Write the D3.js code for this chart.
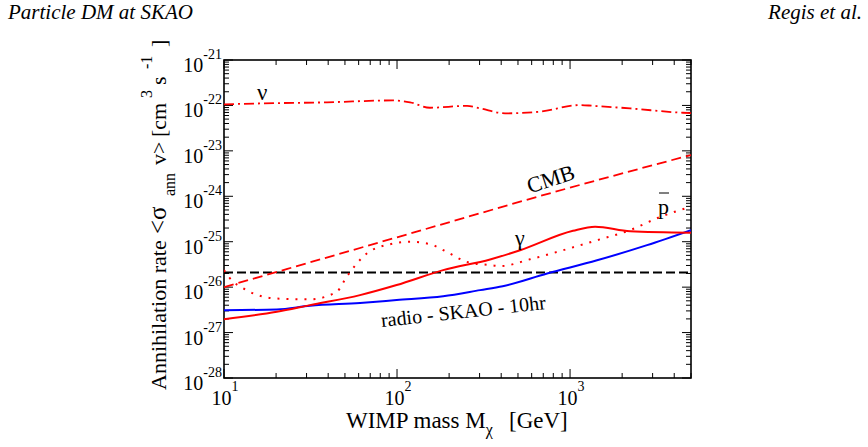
<!DOCTYPE html>
<html>
<head>
<meta charset="utf-8">
<style>
  html, body { margin: 0; padding: 0; background: #fff; }
  svg { display: block; font-family: 'Liberation Serif', 'Times New Roman', serif; }
</style>
</head>
<body>
<script src="https://d3js.org/d3.v7.min.js"></script>
<script>
// ---- data (mass in GeV, rate in cm^3 s^-1) ----
var massNu = [10, 16.8, 39.4, 95, 119, 155, 254, 302, 421, 671, 1143, 1359, 2223, 4500, 5000];
var rateNu = [1.06e-22, 1.11e-22, 1.17e-22, 1.29e-22, 1.17e-22, 8.9e-23, 9.8e-23, 8.6e-23, 6.7e-23, 7.3e-23, 1.02e-22, 9.8e-23, 8.6e-23, 6.9e-23, 6.8e-23];

var massCmb = [10, 100, 1000, 5000];
var rateCmb = [1.0e-26, 1.25e-25, 1.55e-24, 8.1e-24];

var massThermal = [10, 5000];
var rateThermal = [2.1e-26, 2.1e-26];

var massGamma = [10, 20.2, 31.4, 61.1, 99.5, 184.7, 345, 514, 1040, 1396, 2223, 5000];
var rateGamma = [1.97e-27, 2.86e-27, 4.02e-27, 6.67e-27, 1.11e-26, 2.37e-26, 4.07e-26, 6.5e-26, 1.74e-25, 2.14e-25, 1.7e-25, 1.58e-25];

var massRadio = [10, 20.2, 31.4, 61.1, 99.5, 184.7, 302, 408, 737, 1432, 2786, 5000];
var rateRadio = [3.11e-27, 3.23e-27, 3.9e-27, 4.5e-27, 5.2e-27, 6.3e-27, 8.6e-27, 1.05e-26, 2.0e-26, 3.9e-26, 8.4e-26, 1.8e-25];

var massPbar = [10, 10.8, 13.5, 20.2, 31.4, 44.8, 51.2, 58.5, 66.8, 91.2, 119, 155, 202, 253, 345, 394, 587, 912, 1432, 2223, 3311, 5000];
var ratePbar = [2.37e-26, 1.58e-26, 8.6e-27, 5.6e-27, 5.4e-27, 7.9e-27, 1.69e-26, 3.3e-26, 5.5e-26, 8.8e-26, 9.95e-26, 8.8e-26, 5.5e-26, 3.6e-26, 3.05e-26, 2.9e-26, 4.1e-26, 6.5e-26, 1.08e-25, 1.8e-25, 3.5e-25, 5.9e-25];

var xMajor = [10, 100, 1000];
var yExponents = [-21, -22, -23, -24, -25, -26, -27, -28];

(function() {
  var svg = d3.select("body").append("svg")
    .attr("width", 868)
    .attr("height", 447);

  svg.append("rect").attr("width", 868).attr("height", 447).attr("fill", "#fff");

  // header
  svg.append("text").attr("x", 8).attr("y", 19)
    .attr("font-size", "21px").attr("font-style", "italic")
    .text("Particle DM at SKAO");
  svg.append("text").attr("x", 862).attr("y", 19)
    .attr("text-anchor", "end")
    .attr("font-size", "21px").attr("font-style", "italic")
    .text("Regis et al.");

  var pl = 224, pr = 691, pt = 60, pb = 378;

  var x = d3.scaleLog().domain([10, 5000]).range([pl, pr]);
  var y = d3.scaleLog().domain([1e-28, 1e-21]).range([pb, pt]);

  // ticks on all four sides
  var isMajor = function(v) {
    var l = Math.log10(v);
    return Math.abs(l - Math.round(l)) < 1e-9;
  };
  var ticksG = svg.append("g").attr("stroke", "#000").attr("stroke-width", 1);

  x.ticks().forEach(function(v) {
    var len = isMajor(v) ? 9 : 5;
    var px = x(v);
    ticksG.append("line").attr("x1", px).attr("x2", px).attr("y1", pb).attr("y2", pb - len);
    ticksG.append("line").attr("x1", px).attr("x2", px).attr("y1", pt).attr("y2", pt + len);
  });
  y.ticks().forEach(function(v) {
    var len = isMajor(v) ? 9 : 5;
    var py = y(v);
    ticksG.append("line").attr("y1", py).attr("y2", py).attr("x1", pl).attr("x2", pl + len);
    ticksG.append("line").attr("y1", py).attr("y2", py).attr("x1", pr).attr("x2", pr - len);
  });

  // frame
  svg.append("rect")
    .attr("x", pl).attr("y", pt)
    .attr("width", pr - pl).attr("height", pb - pt)
    .attr("fill", "none").attr("stroke", "#000").attr("stroke-width", 1.6);

  // x tick labels
  xMajor.forEach(function(v) {
    var t = svg.append("text")
      .attr("x", x(v) + 1).attr("y", pb + 27)
      .attr("text-anchor", "middle")
      .attr("font-size", "20px");
    t.append("tspan").text("10");
    t.append("tspan").attr("dy", -14).attr("font-size", "14px").text(Math.round(Math.log10(v)));
  });

  // y tick labels
  yExponents.forEach(function(e) {
    var t = svg.append("text")
      .attr("x", 222).attr("y", y(Math.pow(10, e)) + 12)
      .attr("text-anchor", "end")
      .attr("font-size", "20px");
    t.append("tspan").text("10");
    t.append("tspan").attr("dy", -13).attr("font-size", "14px").text(e);
  });

  // axis titles
  var xt = svg.append("text")
    .attr("x", 346).attr("y", 428)
    .attr("font-size", "23px");
  xt.append("tspan").text("WIMP mass M");
  xt.append("tspan").attr("dy", 7).attr("font-size", "16px").text("χ");
  xt.append("tspan").attr("x", 509).attr("dy", -7).text("[GeV]");

  // rotated y title: x' runs upward from screen y = 390
  var yt = svg.append("text")
    .attr("transform", "translate(166,390) rotate(-90)")
    .attr("font-size", "22px");
  yt.append("tspan").attr("x", 0).text("Annihilation rate");
  yt.append("tspan").attr("x", 156).attr("font-size", "25px").text("<σ");
  yt.append("tspan").attr("x", 194).attr("dy", 9).attr("font-size", "16px").text("ann");
  yt.append("tspan").attr("x", 225).attr("dy", -9).text("v>");
  yt.append("tspan").attr("x", 253).text("[cm");
  yt.append("tspan").attr("x", 292).attr("dy", -14).attr("font-size", "16px").text("3");
  yt.append("tspan").attr("x", 305).attr("dy", 14).text("s");
  yt.append("tspan").attr("x", 321).attr("dy", -14).attr("font-size", "16px").text("-1");
  yt.append("tspan").attr("x", 343).attr("dy", 14).text("]");

  // curves
  svg.append("clipPath").attr("id", "plotclip")
    .append("rect").attr("x", pl).attr("y", pt)
    .attr("width", pr - pl).attr("height", pb - pt);

  var line = d3.line()
    .x(function(d) { return x(d[0]); })
    .y(function(d) { return y(d[1]); })
    .curve(d3.curveMonotoneX);

  var zip = function(a, b) { return a.map(function(v, i) { return [v, b[i]]; }); };

  var series = [
    { m: massThermal, r: rateThermal, color: "#000", dash: "9,4", w: 1.8 },
    { m: massNu, r: rateNu, color: "#ff0000", dash: "10,4,2,4", w: 1.8 },
    { m: massCmb, r: rateCmb, color: "#ff0000", dash: "10,5", w: 1.8 },
    { m: massPbar, r: ratePbar, color: "#ff0000", dash: "2,7", w: 2 },
    { m: massRadio, r: rateRadio, color: "#0000ff", dash: null, w: 2 },
    { m: massGamma, r: rateGamma, color: "#ff0000", dash: null, w: 2 }
  ];

  var curves = svg.append("g").attr("clip-path", "url(#plotclip)");
  curves.selectAll("path")
    .data(series)
    .enter()
    .append("path")
    .attr("d", function(d) { return line(zip(d.m, d.r)); })
    .attr("fill", "none")
    .attr("stroke", function(d) { return d.color; })
    .attr("stroke-width", function(d) { return d.w; })
    .attr("stroke-dasharray", function(d) { return d.dash; });

  // curve labels
  svg.append("text").attr("x", 257).attr("y", 100).attr("font-size", "23px").text("ν");
  svg.append("text").attr("transform", "translate(553,186) rotate(-18)")
    .attr("text-anchor", "middle").attr("font-size", "22px").text("CMB");
  svg.append("text").attr("x", 658).attr("y", 214).attr("font-size", "22px").text("p");
  svg.append("line").attr("x1", 659).attr("x2", 669).attr("y1", 193).attr("y2", 193)
    .attr("stroke", "#000").attr("stroke-width", 1);
  svg.append("text").attr("x", 515).attr("y", 245).attr("font-size", "22px").text("γ");
  svg.append("text").attr("transform", "translate(464,318) rotate(-6.3)")
    .attr("text-anchor", "middle").attr("font-size", "20px").text("radio - SKAO - 10hr");
})();
</script>
</body>
</html>
